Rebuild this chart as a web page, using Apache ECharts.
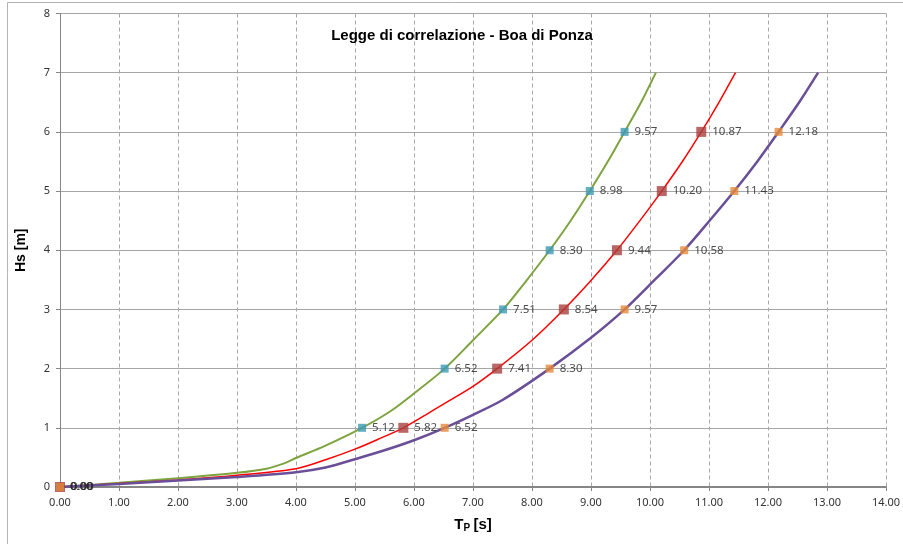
<!DOCTYPE html>
<html><head><meta charset="utf-8">
<script src="https://cdn.jsdelivr.net/npm/echarts@6/dist/echarts.min.js"></script>
<style>html,body{margin:0;padding:0;background:#fff}#c{width:903px;height:544px}</style>
</head><body><div id="c"></div>
<script>
// Hs levels for marker points
const hsLevels = [0, 1, 2, 3, 4, 5, 6];
// Tp values at each Hs level (marker series)
const tpGreen  = [0.00, 5.12, 6.52, 7.51, 8.30, 8.98, 9.57];
const tpRed    = [0.00, 5.82, 7.41, 8.54, 9.44, 10.20, 10.87];
const tpPurple = [0.00, 6.52, 8.30, 9.57, 10.58, 11.43, 12.18];
// Curves: Tp values and Hs values
const curveGreenTp  = [0, 1, 2, 3, 3.5, 3.8, 4, 4.5, 5.12, 5.6, 6, 6.52, 7.0, 7.51, 7.9, 8.30, 8.65, 8.98, 9.28, 9.57, 9.85, 10.10];
const curveGreenHs  = [0, 0.07, 0.15, 0.24, 0.31, 0.40, 0.49, 0.70, 1, 1.28, 1.58, 2, 2.48, 3, 3.48, 4, 4.49, 5, 5.49, 6, 6.5, 7];
const curveRedTp    = [0, 1, 2, 3, 4, 4.5, 5, 5.4, 5.82, 6.2, 6.5, 7.0, 7.41, 8.0, 8.54, 9.0, 9.44, 9.83, 10.20, 10.55, 10.87, 11.17, 11.45];
const curveRedHs    = [0, 0.06, 0.12, 0.20, 0.31, 0.46, 0.64, 0.81, 1, 1.22, 1.40, 1.70, 2, 2.48, 3, 3.49, 4, 4.5, 5, 5.5, 6, 6.5, 7];
const curvePurpleTp = [0, 1, 2, 3, 4, 4.5, 5, 5.5, 6, 6.52, 7.0, 7.5, 8.30, 9.0, 9.57, 10.1, 10.58, 11.02, 11.43, 11.82, 12.18, 12.53, 12.85];
const curvePurpleHs = [0, 0.05, 0.11, 0.17, 0.25, 0.33, 0.47, 0.62, 0.79, 1, 1.22, 1.47, 2, 2.52, 3, 3.52, 4, 4.51, 5, 5.5, 6, 6.5, 7];

const zip = (a, b) => a.map((v, i) => [v, b[i]]);
const chart = echarts.init(document.getElementById('c'), null, {renderer: 'canvas'});
const font = 'Liberation Sans, Arial, sans-serif';
const lbl = {show: true, position: 'right', distance: 6, color: '#222', fontSize: 11.5, fontFamily: 'Noto Sans, ' + font,
  formatter: p => p.value[0].toFixed(2)};
chart.setOption({
  animation: false,
  backgroundColor: '#fff',
  graphic: [{type: 'rect', shape: {x: 7.5, y: 2.5, width: 1000, height: 1000},
    style: {fill: 'none', stroke: '#b4b4b4', lineWidth: 1}, z: -1}],
  title: {text: 'Legge di correlazione - Boa di Ponza', left: 457, top: 23, textAlign: 'center',
    textStyle: {fontFamily: font, fontWeight: 'bold', fontSize: 15, color: '#000'}},
  grid: {left: 60, right: 17, top: 13.5, bottom: 57},
  xAxis: {type: 'value', min: 0, max: 14, interval: 1,
    name: '{t|T}{s|P} {t|[s]}', nameLocation: 'middle', nameGap: 30,
    nameTextStyle: {rich: {t: {fontFamily: font, fontWeight: 'bold', fontSize: 15, color: '#000'},
      s: {fontFamily: font, fontWeight: 'bold', fontSize: 10, color: '#000', verticalAlign: 'bottom', padding: [6, 0, 0, 0]}}},
    axisLine: {lineStyle: {color: '#868686', width: 2}},
    axisTick: {show: true, length: 4, lineStyle: {color: '#868686'}},
    axisLabel: {margin: 10, color: '#333', fontSize: 11, fontFamily: 'Noto Sans, ' + font, formatter: v => v.toFixed(2)},
    splitLine: {show: true, lineStyle: {color: '#a8a8a8', type: [4, 3], width: 1}}},
  yAxis: {type: 'value', min: 0, max: 8, interval: 1,
    name: 'Hs [m]', nameLocation: 'middle', nameGap: 32, nameRotate: 90,
    nameTextStyle: {fontFamily: font, fontWeight: 'bold', fontSize: 14, color: '#000'},
    axisLine: {show: true, lineStyle: {color: '#868686', width: 1}},
    axisTick: {show: true, length: 4, lineStyle: {color: '#868686'}},
    axisLabel: {margin: 10, color: '#333', fontSize: 11, fontFamily: 'Noto Sans, ' + font},
    splitLine: {show: true, lineStyle: {color: '#a6a6a6', width: 1}}},
  series: [
    {type: 'line', data: zip(curveGreenTp, curveGreenHs), smooth: 0.3, showSymbol: false,
      lineStyle: {color: '#7DA43F', width: 2}, z: 2},
    {type: 'line', data: zip(curveRedTp, curveRedHs), smooth: 0.3, showSymbol: false,
      lineStyle: {color: '#FF0000', width: 1.5}, z: 2},
    {type: 'line', data: zip(curvePurpleTp, curvePurpleHs), smooth: 0.3, showSymbol: false,
      lineStyle: {color: '#6A4F98', width: 2.5}, z: 2},
    {type: 'scatter', data: zip(tpGreen, hsLevels), symbol: 'rect', symbolSize: 8,
      itemStyle: {color: '#3C9AB4'}, label: lbl, z: 3},
    {type: 'scatter', data: zip(tpRed, hsLevels), symbol: 'rect', symbolSize: 10,
      itemStyle: {color: '#A8403D'}, label: lbl, z: 3},
    {type: 'scatter', data: zip(tpPurple, hsLevels), symbol: 'rect', symbolSize: 8,
      itemStyle: {color: '#E58A3A'}, label: lbl, z: 3}
  ]
});
</script></body></html>
